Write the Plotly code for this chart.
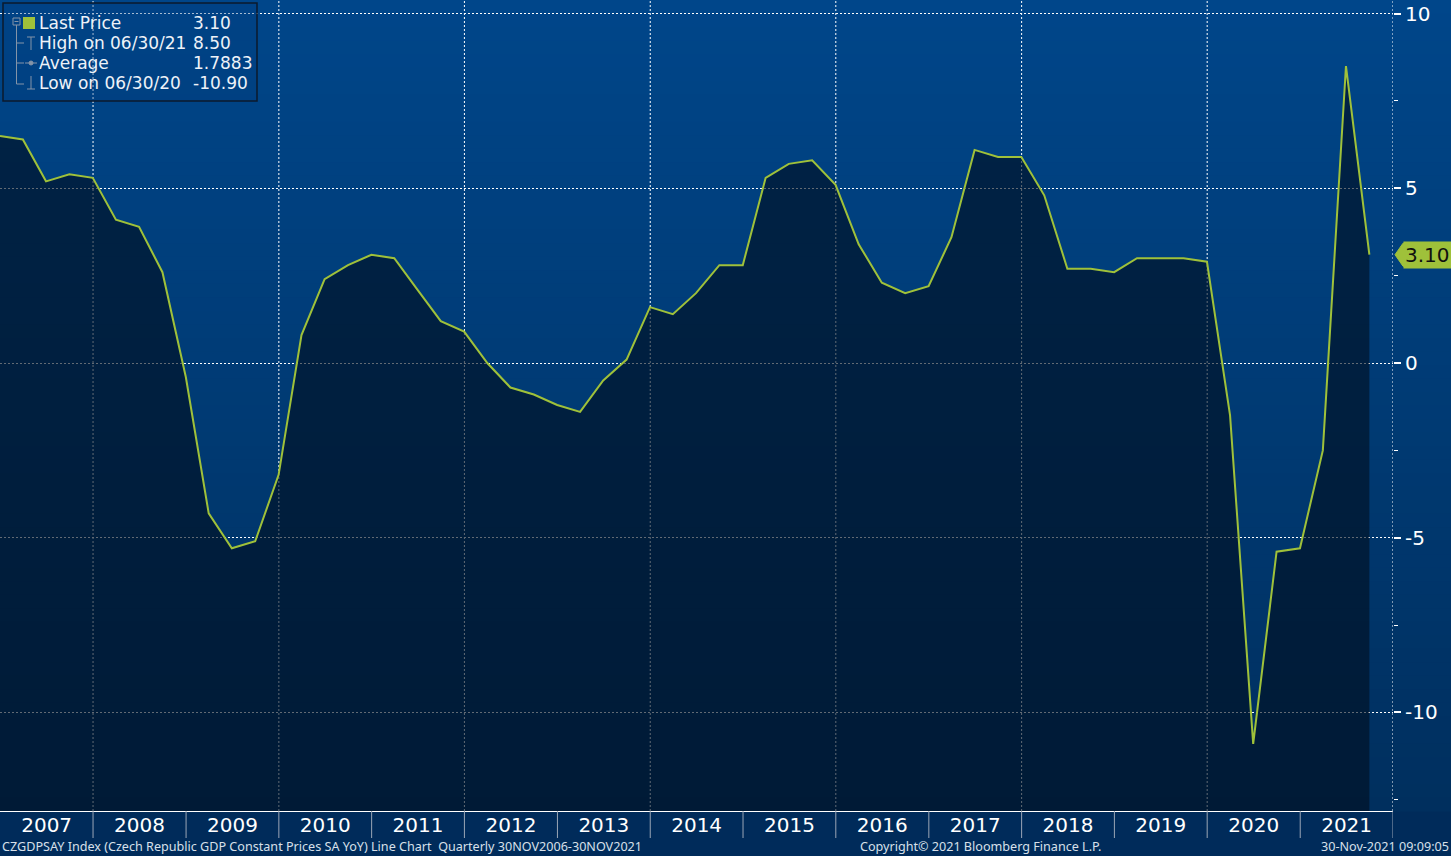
import plotly.graph_objects as go
import pandas as pd

# ---------------- data ----------------
quarter_dates = pd.date_range("2006-12-31", periods=60, freq="QE")
gdp_yoy = [
    6.5,
    6.4, 5.2, 5.4, 5.3,
    4.1, 3.9, 2.6, -0.4,
    -4.3, -5.3, -5.1, -3.2,
    0.8, 2.4, 2.8, 3.1,
    3.0, 2.1, 1.2, 0.9,
    0.0, -0.7, -0.9, -1.2,
    -1.4, -0.5, 0.1, 1.6,
    1.4, 2.0, 2.8, 2.8,
    5.3, 5.7, 5.8, 5.1,
    3.4, 2.3, 2.0, 2.2,
    3.6, 6.1, 5.9, 5.9,
    4.8, 2.7, 2.7, 2.6,
    3.0, 3.0, 3.0, 2.9,
    -1.5, -10.9, -5.4, -5.3,
    -2.5, 8.5, 3.1,
]
year_labels = [str(y) for y in range(2007, 2022)]
y_tickvals = [-10, -5, 0, 5, 10]
y_ticktext = ["-10", "-5", "0", "5", "10"]
legend_names = ["Last Price", "High on 06/30/21", "Average", "Low on 06/30/20"]
legend_values = ["3.10", "8.50", "1.7883", "-10.90"]
footer_left = "CZGDPSAY Index (Czech Republic GDP Constant Prices SA YoY) Line Chart  Quarterly 30NOV2006-30NOV2021"
footer_mid = "Copyright\u00a9 2021 Bloomberg Finance L.P."
footer_right = "30-Nov-2021 09:09:05"

# ---------------- layout constants ----------------
W, H = 1451, 856
PW, PH = 1393, 811
Y_MIN, Y_MAX = -12.82, 10.39
X_RANGE = ["2006-12-31", "2022-01-01"]
LINE_COLOR = "#9fc13a"
TREE_COLOR = "#8494a8"
FONT = "DejaVu Sans"


def px(x):
    return x / PW


def py(y):
    return 1 - y / PH


fig = go.Figure()

# base for the fill (bottom of plot)
fig.add_trace(go.Scatter(
    x=quarter_dates, y=[Y_MIN] * len(gdp_yoy), mode="lines",
    line=dict(width=0, color="rgba(0,0,0,0)"), hoverinfo="skip", showlegend=False,
))
# series
fig.add_trace(go.Scatter(
    x=quarter_dates, y=gdp_yoy, mode="lines",
    line=dict(color=LINE_COLOR, width=2),
    fill="tonexty", fillcolor="rgba(0,14,30,0.62)",
    showlegend=False,
))

shapes = []
# background gradient (plot area + right strip)
n_strips = 60
top_c = (0, 70, 138)
bot_c = (0, 47, 94)
for i in range(n_strips):
    t = (i + 0.5) / n_strips
    c = tuple(int(round(top_c[k] + (bot_c[k] - top_c[k]) * t)) for k in range(3))
    shapes.append(dict(
        type="rect", xref="paper", yref="paper",
        x0=0, x1=W / PW, y0=1 - (i + 1) / n_strips - 0.001, y1=1 - i / n_strips,
        fillcolor=f"rgb{c}", line=dict(width=0), layer="below",
    ))

# vertical dotted gridlines every two years
for yr in range(2008, 2023, 2):
    shapes.append(dict(
        type="line", xref="x", yref="paper", x0=f"{yr}-01-01", x1=f"{yr}-01-01",
        y0=0, y1=1, line=dict(color="white", width=1, dash="2px,2px"), layer="below",
    ))

# year separators in the label band
for yr in range(2008, 2023):
    shapes.append(dict(
        type="line", xref="x", yref="paper", x0=f"{yr}-01-01", x1=f"{yr}-01-01",
        y0=-27 / PH, y1=0, line=dict(color="#9aa6b6", width=1), layer="above",
    ))

# legend box
shapes.append(dict(
    type="rect", xref="paper", yref="paper",
    x0=px(3), x1=px(257), y0=py(101), y1=py(3),
    line=dict(color="#0b1a2c", width=1.5), fillcolor="rgba(0,60,125,0.35)", layer="above",
))


def seg(x0, y0, x1, y1):
    shapes.append(dict(type="line", xref="paper", yref="paper", x0=px(x0), x1=px(x1),
                       y0=py(y0), y1=py(y1), line=dict(color=TREE_COLOR, width=1)))


# legend tree: collapse box
shapes.append(dict(type="rect", xref="paper", yref="paper", x0=px(13), x1=px(20),
                   y0=py(25), y1=py(18), line=dict(color=TREE_COLOR, width=1)))
seg(14.5, 21.5, 18.5, 21.5)
seg(16.5, 25, 16.5, 84)
for yy in (43, 63, 84):
    seg(16.5, yy, 24, yy)
# high glyph (T)
seg(27, 37, 35, 37)
seg(31, 37, 31, 50)
# average glyph (-o-)
seg(25, 63, 37, 63)
shapes.append(dict(type="circle", xref="paper", yref="paper", x0=px(29), x1=px(33),
                   y0=py(65), y1=py(61), line=dict(color=TREE_COLOR, width=1),
                   fillcolor=TREE_COLOR))
# low glyph (inverted T)
seg(31, 76, 31, 89)
seg(27, 89, 35, 89)
# green square
shapes.append(dict(type="rect", xref="paper", yref="paper", x0=px(23), x1=px(35),
                   y0=py(29), y1=py(17), fillcolor=LINE_COLOR, line=dict(width=0)))

# last price tag pointer
last = gdp_yoy[-1]
half = 11.5 / (PH / (Y_MAX - Y_MIN))
shapes.append(dict(
    type="path", xref="paper", yref="y",
    path=f"M {px(1395)},{last} L {px(1403)},{last + half} L {px(1404)},{last + half} "
         f"L {px(1404)},{last - half} L {px(1403)},{last - half} Z",
    fillcolor=LINE_COLOR, line=dict(color=LINE_COLOR, width=1), layer="above",
))

annotations = []
# legend text
row_y = [23, 43, 63, 83]
for name, val, yy in zip(legend_names, legend_values, row_y):
    annotations.append(dict(xref="paper", yref="paper", x=px(38), y=py(yy), text=name,
                            showarrow=False, xanchor="left", yanchor="middle", borderpad=0,
                            font=dict(family=FONT, size=17, color="#eef2f8")))
    annotations.append(dict(xref="paper", yref="paper", x=px(192), y=py(yy), text=val,
                            showarrow=False, xanchor="left", yanchor="middle", borderpad=0,
                            font=dict(family=FONT, size=17, color="#eef2f8")))

# last price tag
annotations.append(dict(xref="paper", yref="y", x=px(1403), y=last, text=f"{last:.2f}",
                        showarrow=False, xanchor="left", yanchor="middle",
                        bgcolor=LINE_COLOR, borderpad=1,
                        font=dict(family=FONT, size=20, color="#101010")))

# footer
foot_y = py(847)
foot_font = dict(family="Noto Sans", size=12.6, color="#d8e0ea")
annotations.append(dict(xref="paper", yref="paper", x=px(1), y=foot_y, text=footer_left,
                        showarrow=False, xanchor="left", yanchor="middle", borderpad=0,
                        font=foot_font))
annotations.append(dict(xref="paper", yref="paper", x=px(859), y=foot_y, text=footer_mid,
                        showarrow=False, xanchor="left", yanchor="middle", borderpad=0,
                        font=foot_font))
annotations.append(dict(xref="paper", yref="paper", x=px(1450), y=foot_y, text=footer_right,
                        showarrow=False, xanchor="right", yanchor="middle", borderpad=0,
                        font=foot_font))

fig.update_layout(
    width=W, height=H,
    margin=dict(l=0, r=W - PW, t=0, b=H - PH, pad=0),
    paper_bgcolor="#002b5a",
    plot_bgcolor="rgba(0,0,0,0)",
    showlegend=False,
    shapes=shapes,
    annotations=annotations,
    xaxis=dict(
        type="date", range=X_RANGE, tick0="2007-01-01", dtick="M12",
        ticklabelmode="period", tickformat="%Y", ticklabelstandoff=-4,
        ticks="", showgrid=False, zeroline=False,
        showline=True, linecolor="white", linewidth=1,
        tickfont=dict(family=FONT, size=20, color="white"),
        automargin=False, fixedrange=True,
    ),
    yaxis=dict(
        side="right", range=[Y_MIN, Y_MAX],
        tickvals=y_tickvals, ticktext=y_ticktext,
        ticks="outside", ticklen=7, tickwidth=2, tickcolor="white",
        minor=dict(dtick=2.5, tick0=0, ticks="outside", ticklen=4, tickcolor="white", tickwidth=1),
        showgrid=True, gridcolor="white", gridwidth=1, griddash="2px,2px",
        zeroline=False, showline=False,
        tickfont=dict(family=FONT, size=20, color="white"),
        automargin=False, fixedrange=True,
    ),
)

fig.write_html(
    "out.html",
    config={"displayModeBar": False},
    post_script="document.body.style.margin='0';document.body.style.overflow='hidden';",
)
